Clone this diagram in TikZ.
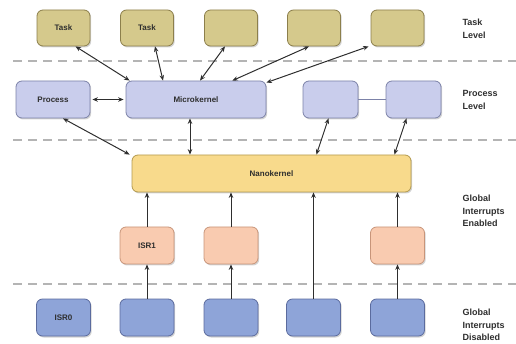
\documentclass[tikz,border=0pt]{standalone}
\usepackage{fontspec}
\setmainfont{Liberation Sans}
\usetikzlibrary{shadows,arrows.meta}

\definecolor{textgray}{HTML}{2E2E2E}
\definecolor{sepgray}{HTML}{B4B4B4}
\definecolor{taskfill}{HTML}{D5C98C}
\definecolor{taskline}{HTML}{8C7F4C}
\definecolor{procfill}{HTML}{C9CDEC}
\definecolor{procline}{HTML}{7C82A8}
\definecolor{nanofill}{HTML}{F8DA8C}
\definecolor{nanoline}{HTML}{B39A4E}
\definecolor{isrfill}{HTML}{F9CBB0}
\definecolor{isrline}{HTML}{C8957A}
\definecolor{hwfill}{HTML}{8EA4D8}
\definecolor{hwline}{HTML}{5B6B9E}

\begin{document}
\begin{tikzpicture}[x=1pt, y=-1pt,
    box/.style={draw, rounded corners=6pt, line width=0.8pt, minimum height=37pt,
        font=\fontsize{8}{10}\selectfont\bfseries, text=textgray,
        drop shadow={shadow xshift=1.2pt, shadow yshift=-1.5pt, opacity=0.35}},
    taskbox/.style={box, fill=taskfill, draw=taskline, minimum width=53pt, minimum height=36pt},
    procbox/.style={box, fill=procfill, draw=procline},
    nanobox/.style={box, fill=nanofill, draw=nanoline, minimum width=279pt},
    isrbox/.style={box, fill=isrfill, draw=isrline, minimum width=54pt},
    hwbox/.style={box, fill=hwfill, draw=hwline, minimum width=54pt},
    side/.style={anchor=west, align=left, text=textgray,
        font=\fontsize{9}{12.5}\selectfont\bfseries},
    sep/.style={draw=sepgray, line width=1.4pt, dash pattern=on 9pt off 6pt},
    link/.style={line width=1pt, draw=textgray, {Stealth[length=5.5pt,width=4.5pt]}-{Stealth[length=5.5pt,width=4.5pt]}},
    upto/.style={line width=1pt, draw=textgray, -{Stealth[length=5.5pt,width=4.5pt]}}
]

    % Fix the page to the size of the picture
    \useasboundingbox (0,0) rectangle (516,344);

    % Draw the dashed level separators
    \draw[sep] (13,61) -- (516,61);
    \draw[sep] (13,140) -- (516,140);
    \draw[sep] (13,284) -- (516,284);

    % Task level
    \node[taskbox] (t1) at (63.5,28) {Task};
    \node[taskbox] (t2) at (147,28) {Task};
    \node[taskbox] (t3) at (231,28) {};
    \node[taskbox] (t4) at (314,28) {};
    \node[taskbox] (t5) at (397.5,28) {};

    % Process level
    \node[procbox, minimum width=74pt] (proc) at (53,99.5) {Process};
    \node[procbox, minimum width=140pt] (mk) at (196,99.5) {Microkernel};
    \node[procbox, minimum width=55pt] (rp1) at (330.5,99.5) {};
    \node[procbox, minimum width=55pt] (rp2) at (413.5,99.5) {};

    % Nanokernel
    \node[nanobox] (nk) at (271.5,173.5) {Nanokernel};

    % Interrupt service routines
    \node[isrbox] (isr1) at (147,245.5) {ISR1};
    \node[isrbox] (isr2) at (231,245.5) {};
    \node[isrbox] (isr4) at (397.5,245.5) {};

    % Bottom row
    \node[hwbox] (isr0) at (63.5,317.5) {ISR0};
    \node[hwbox] (b2) at (147,317.5) {};
    \node[hwbox] (b3) at (231,317.5) {};
    \node[hwbox] (b4) at (313.5,317.5) {};
    \node[hwbox] (b5) at (397.5,317.5) {};

    % Level names on the right
    \node[side] (lvtask) at (459,29) {Task\\Level};
    \node[side] (lvproc) at (459,100) {Process\\Level};
    \node[side] (lven) at (459,211) {Global\\Interrupts\\Enabled};
    \node[side] (lvdis) at (459,325) {Global\\Interrupts\\Disabled};

    % Tasks to the microkernel
    \draw[link] ([xshift=12pt]t1.south) -- ([xshift=4pt]mk.north west);
    \draw[link] ([xshift=8pt]t2.south) -- ([xshift=-33pt]mk.north);
    \draw[link] ([xshift=-6pt]t3.south) -- ([xshift=4pt]mk.north);
    \draw[link] ([xshift=-5pt]t4.south) -- ([xshift=-34pt]mk.north east);
    \draw[link] ([xshift=-2pt]t5.south west) -- ([yshift=-2pt]mk.north east);

    % Processes
    \draw[link, shorten <=2pt, shorten >=2pt] (proc.east) -- (mk.west);
    \draw[draw=procline, line width=0.5pt] (rp1.east) -- (rp2.west);

    % Processes to the nanokernel
    \draw[link] ([xshift=10pt]proc.south) -- ([xshift=-2pt]nk.north west);
    \draw[link] ([xshift=-6pt]mk.south) -- ([xshift=-6pt]mk.south |- nk.north);
    \draw[link] ([xshift=-2pt]rp1.south) -- ([xshift=-95pt]nk.north east);
    \draw[link] ([xshift=-7pt]rp2.south) -- ([xshift=-17pt]nk.north east);

    % Interrupts up to the nanokernel
    \draw[upto] (isr1.north) -- (isr1.north |- nk.south);
    \draw[upto] (isr2.north) -- (isr2.north |- nk.south);
    \draw[upto] (b4.north) -- (b4.north |- nk.south);
    \draw[upto] (isr4.north) -- (isr4.north |- nk.south);

    % Bottom row up to the ISRs
    \draw[upto] (b2.north) -- (isr1.south);
    \draw[upto] (b3.north) -- (isr2.south);
    \draw[upto] (b5.north) -- (isr4.south);

\end{tikzpicture}
\end{document}
